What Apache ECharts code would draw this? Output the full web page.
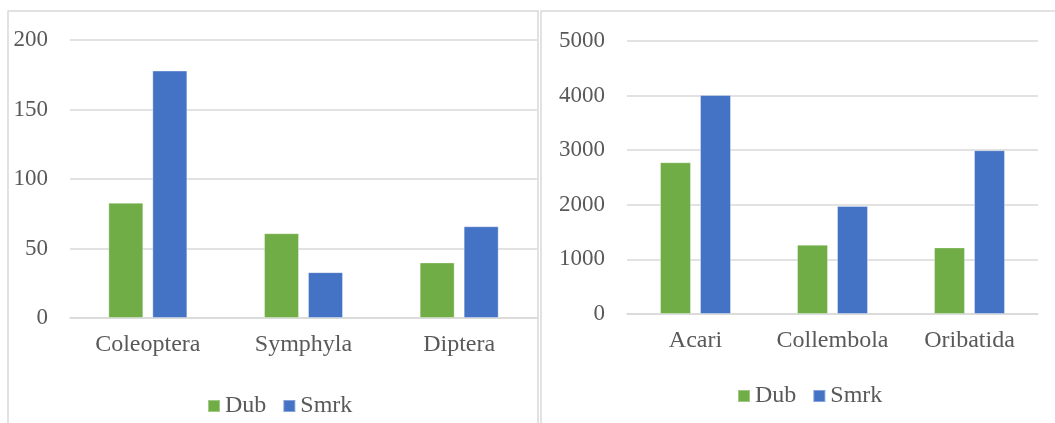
<!DOCTYPE html>
<html>
<head>
<meta charset="utf-8">
<script src="https://cdn.jsdelivr.net/npm/echarts@6/dist/echarts.min.js"></script>
<style>
html,body{margin:0;padding:0;background:#fff;}
#c{width:1055px;height:423px;}
</style>
</head>
<body>
<div id="c"></div>
<script>
const leftCategories = ['Coleoptera', 'Symphyla', 'Diptera'];
const leftDub = [83, 61, 40];
const leftSmrk = [178, 33, 66];
const leftTicks = [0, 50, 100, 150, 200];

const rightCategories = ['Acari', 'Collembola', 'Oribatida'];
const rightDub = [2780, 1270, 1220];
const rightSmrk = [4010, 1980, 3000];
const rightTicks = [0, 1000, 2000, 3000, 4000, 5000];

const seriesNames = ['Dub', 'Smrk'];
const GREEN = '#70AD47', BLUE = '#4472C4';
const TXT = '#595959', GRID = '#d9d9d9';
const FONT = '"Liberation Serif", "Times New Roman", serif';
const FS = 24;

const chart = echarts.init(document.getElementById('c'));

function yAxis(idx, ticks) {
  return {
    type: 'value', gridIndex: idx,
    min: ticks[0], max: ticks[ticks.length - 1], interval: ticks[1] - ticks[0],
    axisLine: {show: false}, axisTick: {show: false},
    axisLabel: {color: TXT, fontFamily: FONT, fontSize: 23, margin: 22,
                formatter: function (v) { return String(v); }},
    splitLine: {lineStyle: {color: GRID, width: 1.5}}
  };
}
function xAxis(idx, cats) {
  return {
    type: 'category', gridIndex: idx, data: cats,
    axisLine: {lineStyle: {color: GRID, width: 1.5}},
    axisTick: {show: false},
    axisLabel: {color: TXT, fontFamily: FONT, fontSize: FS, margin: 15, interval: 0, hideOverlap: false}
  };
}
function bar(name, data, idx, color, w) {
  return {
    name: name, type: 'bar', xAxisIndex: idx, yAxisIndex: idx,
    data: data, barWidth: w, barGap: (9 / w * 100) + '%',
    itemStyle: {color: color, borderColor: 'rgba(255,255,255,0.35)', borderWidth: 1},
    emphasis: {disabled: true}, animation: false
  };
}
function legend(left, top) {
  return {data: seriesNames, left: left, top: top, itemWidth: 12, itemHeight: 12, itemGap: 16,
    icon: 'rect', textStyle: {color: TXT, fontFamily: FONT, fontSize: FS},
    selectedMode: false};
}

chart.setOption({
  animation: false,
  backgroundColor: '#fff',
  graphic: [
    {type: 'rect', shape: {x: 8, y: 11, width: 530, height: 430},
     style: {fill: 'none', stroke: GRID, lineWidth: 1.5}, z: -1},
    {type: 'rect', shape: {x: 541, y: 11, width: 530, height: 430},
     style: {fill: 'none', stroke: GRID, lineWidth: 1.5}, z: -1}
  ],
  grid: [
    {left: 70, right: 1055 - 537, top: 40, bottom: 423 - 318, containLabel: false},
    {left: 627, right: 1055 - 1038, top: 41, bottom: 423 - 314, containLabel: false}
  ],
  legend: [legend(202, 389), legend(732, 379)],
  xAxis: [xAxis(0, leftCategories), xAxis(1, rightCategories)],
  yAxis: [yAxis(0, leftTicks), yAxis(1, rightTicks)],
  series: [
    bar(seriesNames[0], leftDub, 0, GREEN, 35),
    bar(seriesNames[1], leftSmrk, 0, BLUE, 35),
    bar(seriesNames[0], rightDub, 1, GREEN, 31),
    bar(seriesNames[1], rightSmrk, 1, BLUE, 31)
  ]
});
</script>
</body>
</html>
